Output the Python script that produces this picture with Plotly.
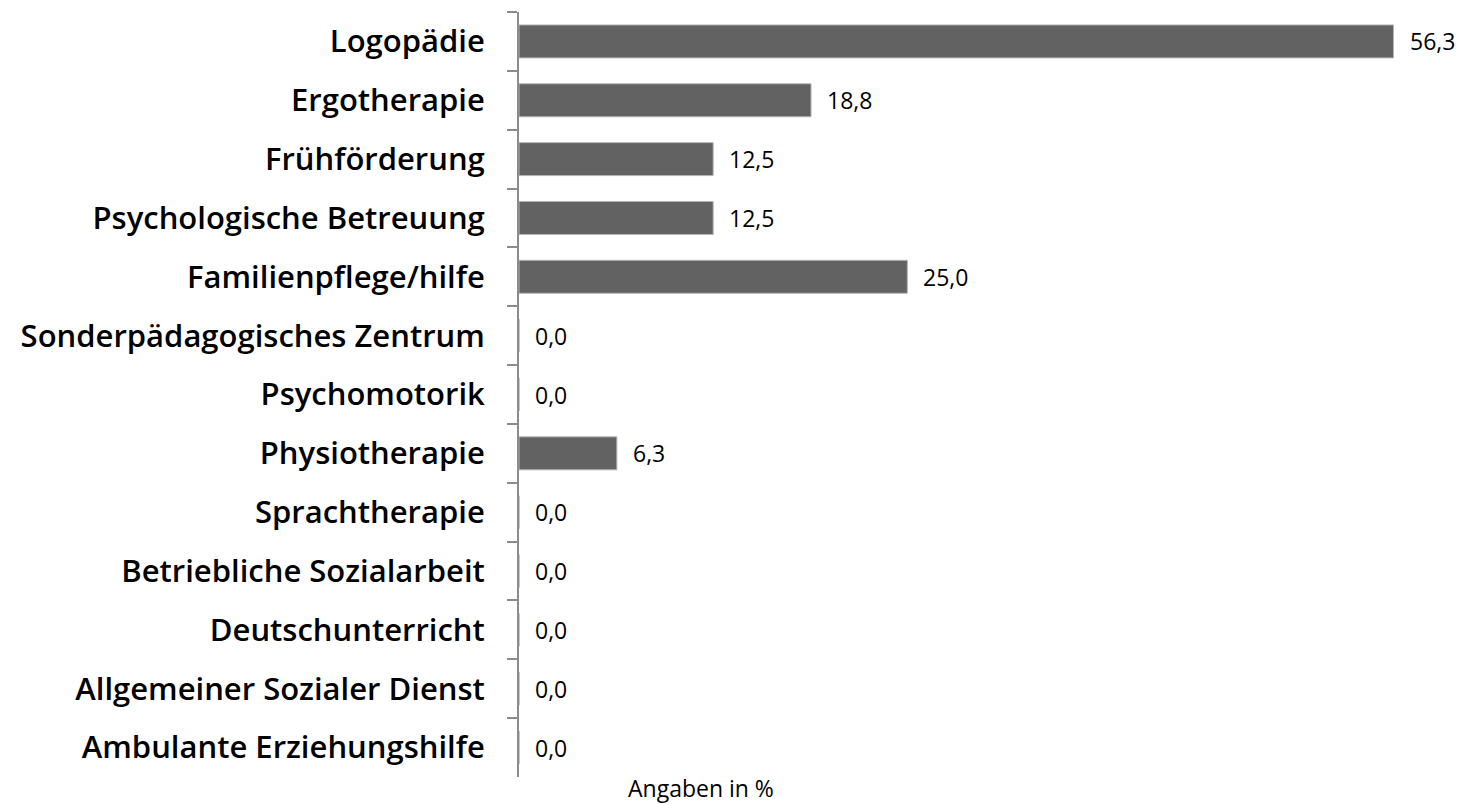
import plotly.graph_objects as go

# categories top -> bottom, as in the chart
categories = [
    "Logopädie", "Ergotherapie", "Frühförderung", "Psychologische Betreuung",
    "Familienpflege/hilfe", "Sonderpädagogisches Zentrum", "Psychomotorik",
    "Physiotherapie", "Sprachtherapie", "Betriebliche Sozialarbeit",
    "Deutschunterricht", "Allgemeiner Sozialer Dienst", "Ambulante Erziehungshilfe",
]
values = [56.3, 18.8, 12.5, 12.5, 25.0, 0.0, 0.0, 6.3, 0.0, 0.0, 0.0, 0.0, 0.0]
x_title = "Angaben in %"

FONT = "Open Sans"

fig = go.Figure()
fig.add_trace(go.Bar(
    x=values, y=categories, orientation="h",
    marker=dict(color="#626262", line=dict(color="#b4b4b4", width=1)),
    width=0.56,
    hoverinfo="x+y",
))

# value labels right of each bar
for cat, val in zip(categories, values):
    fig.add_annotation(
        x=val, y=cat, xref="x", yref="y",
        text=f"{val:.1f}".replace(".", ","),
        showarrow=False, xanchor="left", xshift=14,
        font=dict(family=FONT, size=23, color="black"),
    )

# x axis title sits left of the plot centre, just below the axis
fig.add_annotation(
    x=0.195, y=0, xref="paper", yref="paper",
    text=x_title, showarrow=False, yanchor="top", xanchor="center", yshift=7,
    font=dict(family=FONT, size=23, color="black"),
)

# the page body adds an 8px offset, margins are set for that
fig.update_layout(
    width=1464, height=804,
    margin=dict(l=511, r=21, t=4, b=35),
    plot_bgcolor="white", paper_bgcolor="white",
    showlegend=False,
    font=dict(family=FONT, color="black"),
    xaxis=dict(range=[0, 60], visible=False, showgrid=False, zeroline=False),
    yaxis=dict(
        autorange="reversed", automargin=False,
        categoryorder="array", categoryarray=categories,
        showline=True, linecolor="#8c8c8c", linewidth=2,
        ticks="outside", tickson="boundaries", ticklen=10, tickcolor="#8c8c8c", tickwidth=2,
        tickfont=dict(family=FONT, size=31, color="black", weight=600),
        ticklabelstandoff=26,
        showgrid=False, zeroline=False,
    ),
)

fig.write_html("out.html")
